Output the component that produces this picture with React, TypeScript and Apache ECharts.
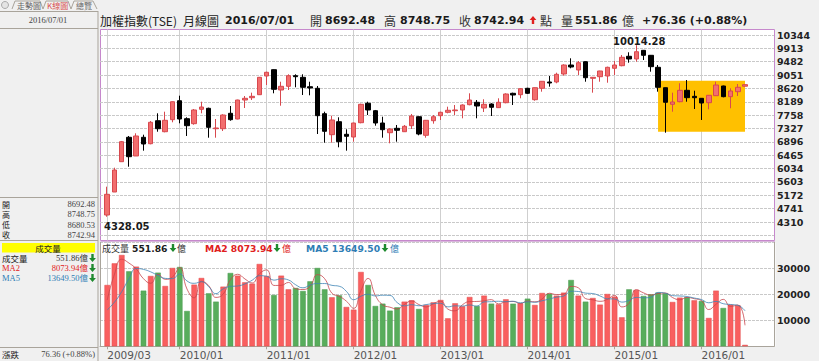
import React, { useEffect, useRef } from "react";
import * as echarts from "echarts";

// open, close, low, high for each month, 2009/03 to 2016/07
const ohlc: number[][] = [
  [4537,5205,4482,5450],[5279,5989,5279,6063],[6257,6902,6257,6925],[7044,6418,6095,7086],[6441,7086,6441,7173],
  [7044,6828,6612,7128],[6837,7528,6818,7570],[7579,7321,7224,7818],[7224,7592,7205,7870],[7612,8192,7528,8200],
  [8224,7634,7495,8386],[7644,7418,7086,7689],[7483,7925,7450,7957],[7947,8021,7818,8192],[7979,7366,7031,8000],
  [7321,7344,7031,7634],[7321,7763,7247,7786],[7818,7612,7579,8054],[7634,8247,7624,8257],[8247,8302,7989,8376],
  [8321,8366,8247,8483],[8418,8979,8408,8989],[9021,9141,8731,9160],[9225,8592,8463,9235],[8570,8689,8063,8837],
  [8689,9031,8570,9076],[9031,8999,8657,9076],[8979,8657,8408,9076],[8676,8634,8399,8837],[8625,7741,7150,8699],
  [7805,7237,6870,7870],[7128,7602,6870,7741],[7547,6902,6721,7689],[7141,7076,6612,7302],[7053,7505,6902,7515],
  [7515,8108,7495,8128],[8141,7925,7763,8192],[7902,7505,7418,7925],[7505,7289,7031,7708],[7192,7312,6850,7334],
  [7334,7270,6902,7441],[7224,7399,7215,7441],[7418,7731,7312,7796],[7708,7150,7108,7720],[7108,7592,7031,7602],
  [7579,7708,7483,7763],[7741,7850,7602,7870],[7850,7915,7818,8031],[7902,7925,7763,8086],[7925,8086,7657,8108],
  [8096,8247,8076,8463],[8173,8054,7657,8247],[7989,8108,7860,8270],[8118,8012,7731,8141],[8000,8173,7989,8302],
  [8160,8441,8141,8463],[8463,8408,8086,8483],[8418,8612,8302,8634],[8625,8463,8441,8640],[8257,8644,8224,8650],
  [8625,8850,8515,8860],[8828,8796,8676,9021],[8828,9076,8786,9128],[9086,9376,9031,9399],[9376,9312,9270,9592],
  [9215,9450,9054,9505],[9483,8966,8837,9495],[8947,8979,8483,8989],[8999,9183,8837,9190],[9021,9302,8805,9322],
  [9270,9376,9054,9505],[9354,9625,9334,9699],[9657,9570,9450,9786],[9570,9805,9483,10014],[9850,9689,9537,9860],
  [9689,9322,9160,9699],[9302,8657,8515,9376],[8644,8173,7192,8650],[8108,8183,7870,8483],[8192,8560,8173,8786],
  [8560,8322,8192,8892],[8366,8321,7957,8547],[8302,8150,7602,8310],[8160,8399,7947,8408],[8386,8731,8376,8837],
  [8699,8354,8334,8710],[8354,8538,7980,8625],[8515,8657,8376,8763],[8692,8743,8680,8749],
];

const volumes: number[] = [
  23590,31920,35130,28850,30640,21410,27050,28330,23200,30130,30510,13590,23720,26280,20380,17180,22950,28200,27180,24610,
  24100,31670,27050,19740,27180,21920,22440,21280,25000,30130,21920,18850,19610,15130,14100,28590,23590,15510,16410,13720,
  15000,17180,17690,14360,15900,16920,17820,10770,16540,15380,18970,15510,19490,16410,16150,18080,16410,16540,18330,15900,
  20510,20260,19490,20640,25510,19490,17180,18590,16030,20130,19100,11150,21920,21670,19360,20000,20640,20380,17050,18720,
  18850,17690,17440,10900,21410,14740,16030,15770,552,
];

// R = red bar, G = green bar
const volumeSides: string[] = (
  "RRRGRGRGRR" + "GGRRGGRGRR" + "RRRGRRGGGG" + "GRGRRRGGGG" + "GRRGRRRRRR" +
  "RGRGRRGRGR" + "RGRRGRGRRR" + "RRGRGGGGRR" + "GRGRRGRRR"
).split("");

const ma2: number[] = [
  17800,27750,33500,32000,29750,26000,24250,27700,25750,26650,30300,22050,18650,25000,23350,18800,20100,25600,27700,25900,
  24350,27900,29400,23400,23450,24550,22150,21850,23150,27550,26000,20400,19250,17350,14600,21350,26100,19550,15950,15050,
  14350,16100,17450,16050,15150,16400,17350,14300,13650,15950,17200,17250,17500,17950,16300,17150,17250,16450,17400,17100,
  18200,20400,19900,20050,23050,22500,18350,17900,17300,18050,19600,15150,16550,21800,20550,19700,20300,20500,18750,17900,
  18800,18300,17550,14150,16150,18050,15350,15900,8074,
];

const ma5: number[] = [
  14000,17000,21000,26000,29940,29580,28620,27260,26120,26020,27840,25140,24220,24840,22900,20240,22120,23020,23200,24000,
  25420,27160,26940,25440,25960,25520,23660,22500,23560,24140,24140,23440,23100,21120,17920,19260,20020,19380,19640,19560,
  16840,15560,16000,15600,16040,16420,16540,15160,15580,15480,15900,15440,17080,17160,17320,17140,17320,16720,17100,16940,
  17520,18200,18900,19360,21180,21080,20460,20280,19360,18280,18200,17000,17660,18800,18660,18840,20720,20420,19500,19360,
  19140,18560,17960,16740,17260,16380,16080,15760,13650,
];

const tickLabels = ["2009/03","2010/01","2011/01","2012/01","2013/01","2014/01","2015/01","2016/01"];
const highlightMonths = ["2015/07","2016/07"];
const highlightValues = [7224, 8870];

const months: string[] = [];
{
  let y = 2009, m = 2;
  for (let i = 0; i < 94; i++) {
    months.push(`${y}/${String(m).padStart(2, "0")}`);
    m++;
    if (m > 12) { m = 1; y++; }
  }
}
const tickSet = new Set(tickLabels);
const isTick = (_: number, v: string) => tickSet.has(v);

const PURPLE = "#C688CC";
const GREY = "#A9A49B";
const RED = "#E02020";
const BLUE = "#2E7DB5";
const GREEN = "#1E8A2E";
const CJK = '"Noto Sans CJK TC","Liberation Serif",serif';
const SERIF = '"Liberation Serif","Noto Sans CJK TC",serif';
const BOLD = '"DejaVu Sans",sans-serif';

const T = (x: number, y: number, text: string, o: any = {}) => ({
  type: "text", x, y, z: 20, silent: true,
  style: {
    text, fontFamily: o.font ?? SERIF, fontSize: o.size ?? 8.5, fontWeight: o.weight ?? "normal",
    fill: o.color ?? "#222", align: o.align ?? "left", verticalAlign: "middle",
  },
});
const B = (x: number, y: number, text: string, color = "#1a1a1a", size = 11) =>
  T(x, y, text, { font: BOLD, size, weight: "bold", color });
const C = (x: number, y: number, text: string, color = "#222", size = 12) =>
  T(x, y, text, { font: CJK, size, color });
const line = (x1: number, y1: number, x2: number, y2: number, stroke = GREY) => ({
  type: "line", z: 15, silent: true, shape: { x1, y1, x2, y2 }, style: { stroke, lineWidth: 1 },
});
const rect = (x: number, y: number, width: number, height: number, fill: string, stroke?: string, z = -1) => ({
  type: "rect", z, silent: true, shape: { x, y, width, height }, style: { fill, stroke: stroke ?? "none", lineWidth: 1 },
});
const arrow = (x: number, y: number, color: string, up = false) => {
  const s = up ? -1 : 1;
  return {
    type: "polygon", z: 20, silent: true,
    shape: { points: [[x - 1.2, y - 4 * s], [x + 1.2, y - 4 * s], [x + 1.2, y], [x + 3.4, y], [x, y + 4 * s], [x - 3.4, y], [x - 1.2, y]] },
    style: { fill: color },
  };
};

export default function App() {
  const ref = useRef<HTMLDivElement>(null);
  useEffect(() => {
    const chart = echarts.init(ref.current!, undefined, { renderer: "svg" });
    const xBase = (gridIndex: number) => ({ type: "category", gridIndex, data: months, boundaryGap: false });
    const graphicElements: any[] = [
      rect(100.5, 29.5, 674, 211, "#fff", PURPLE),
      rect(100.5, 242.5, 675, 104, "#fff"),
      line(100.5, 241.5, 775, 241.5, "#D9B6DC"),
      line(100.5, 242, 100.5, 347),
      // left panel
      line(98, 11, 98, 361), line(0, 11.5, 98, 11.5), line(0, 28.5, 98, 28.5),
      line(0, 197.5, 98, 197.5), line(0, 240.5, 98, 240.5), line(0, 347.5, 98, 347.5),
      rect(2, 243, 93, 9.5, "#FFFF00", undefined, 15),
      T(48, 20, "2016/07/01", { align: "center", color: "#444" }),
      T(2, 204, "開", { font: CJK, size: 8 }), T(2, 214.3, "高", { font: CJK, size: 8 }), T(2, 224.6, "低", { font: CJK, size: 8 }), T(2, 234.9, "收", { font: CJK, size: 8 }),
      T(95, 204, "8692.48", { align: "right", color: "#444" }), T(95, 214.3, "8748.75", { align: "right", color: "#444" }),
      T(95, 224.6, "8680.53", { align: "right", color: "#444" }), T(95, 234.9, "8742.94", { align: "right", color: "#444" }),
      T(48, 248, "成交量", { font: CJK, align: "center" }),
      T(2, 258, "成交量", { font: CJK }), T(88, 258, "551.86億", { font: SERIF, align: "right", color: "#333" }),
      T(2, 268, "MA2", { color: RED }), T(88, 268, "8073.94億", { align: "right", color: RED }),
      T(2, 278, "MA5", { color: BLUE }), T(88, 278, "13649.50億", { align: "right", color: BLUE }),
      arrow(92.5, 258, GREEN), arrow(92.5, 268, GREEN), arrow(92.5, 278, GREEN),
      T(2, 354, "漲跌", { font: CJK }), T(95, 354, "76.36 (+0.88%)", { align: "right", color: "#444" }),
      // tabs
      { type: "circle", z: 15, silent: true, shape: { cx: 5, cy: 5, r: 3.5 }, style: { fill: "#e4e4e4", stroke: "#aaa", lineWidth: 1 } },
      line(12, 9, 15, 1), line(15, 1, 40, 1), line(40, 1, 43, 9), line(43, 9, 46, 1), line(46, 1, 68, 1), line(68, 1, 71, 9), line(71, 9, 74, 1), line(74, 1, 93, 1), line(93, 1, 97, 9),
      T(17, 5, "走勢圖", { font: CJK, size: 8, color: "#666" }),
      T(47, 5, "K線圖", { font: CJK, size: 8, color: "#D85050" }),
      T(76, 5, "總覽", { font: CJK, size: 8, color: "#666" }),
      // title row
      C(100, 20, "加權指數(TSE)"), C(183, 20, "月線圖"), B(225, 20, "2016/07/01"),
      C(310, 20, "開", "#333"), B(325, 20, "8692.48"),
      C(384, 20, "高", "#333"), B(400, 20, "8748.75"),
      C(459, 20, "收", "#333"), B(474, 20, "8742.94"),
      arrow(533, 20, RED, true), C(540, 20, "點", "#333"),
      C(561, 20, "量", "#333"), B(575, 20, "551.86"), C(622, 20, "億", "#333"),
      B(642, 20, "+76.36 (+0.88%)"),
      // annotations
      B(613, 41, "10014.28", "#1a1a1a", 10), B(104, 226, "4328.05", "#1a1a1a", 10),
      // volume header
      C(102, 248, "成交量", "#333", 9), B(132, 248, "551.86", "#1a1a1a", 9.2), arrow(173, 248, GREEN), C(177, 248, "億", "#333", 9),
      B(205, 248, "MA2 8073.94", RED, 9.2), arrow(277, 248, GREEN), C(282, 248, "億", RED, 9),
      B(306, 248, "MA5 13649.50", BLUE, 9.2), arrow(385, 248, GREEN), C(390, 248, "億", BLUE, 9),
    ];
    chart.setOption({
      animation: false,
      backgroundColor: "#F0F0F0",
      grid: [
        { left: 100, right: 45, top: 35, height: 200.4, outerBoundsMode: "none" },
        { left: 100, right: 45, top: 242.3, height: 104, outerBoundsMode: "none" },
        { left: 100, right: 45, top: 29.5, height: 211, outerBoundsMode: "none" },
      ],
      xAxis: [
        { ...xBase(0), axisLine: { show: false }, axisTick: { show: false }, axisLabel: { show: false }, splitLine: { show: false } },
        {
          ...xBase(1),
          axisLine: { lineStyle: { color: GREY } },
          axisTick: { show: true, alignWithLabel: true, interval: isTick, length: 3, lineStyle: { color: GREY } },
          axisLabel: { show: true, interval: isTick, align: "left", margin: 3.5, fontSize: 10.5, color: "#555", fontFamily: '"DejaVu Sans",sans-serif' },
          splitLine: { show: true, interval: isTick, lineStyle: { color: "#CFCFCF" } },
        },
        {
          ...xBase(2),
          axisLine: { show: false }, axisTick: { show: false }, axisLabel: { show: false },
          splitLine: { show: true, interval: isTick, lineStyle: { color: "#CFCFCF" } },
        },
      ],
      yAxis: [
        {
          type: "value", gridIndex: 0, position: "right", min: 3879, max: 10344, interval: 431, scale: true,
          axisLine: { show: false }, axisTick: { show: false },
          axisLabel: { showMinLabel: false, margin: 3, fontSize: 9.5, fontWeight: "bold", color: "#222", fontFamily: BOLD, formatter: (v: number) => String(v) },
          splitLine: { show: true, lineStyle: { color: "#C9C9C9", type: [3, 1] } },
        },
        {
          type: "value", gridIndex: 1, position: "right", min: 0, max: 40000, interval: 10000,
          axisLine: { show: true, lineStyle: { color: GREY } }, axisTick: { show: false },
          axisLabel: { showMinLabel: false, showMaxLabel: false, margin: 3, fontSize: 9.5, fontWeight: "bold", color: "#222", fontFamily: BOLD, formatter: (v: number) => String(v) },
          splitLine: { show: true, lineStyle: { color: "#C9C9C9", type: [3, 1] } },
        },
        { type: "value", gridIndex: 2, min: 0, max: 1, axisLine: { show: false }, axisTick: { show: false }, axisLabel: { show: false }, splitLine: { show: false } },
      ],
      series: [
        {
          type: "candlestick", xAxisIndex: 0, yAxisIndex: 0, barWidth: 5,
          data: [["-", "-", "-", "-"], ...ohlc],
          itemStyle: { color: "#F26E6E", color0: "#000", borderColor: "#D8484E", borderColor0: "#000", borderWidth: 1 },
          markArea: {
            silent: true, z: 1,
            itemStyle: { color: "#FFC000", opacity: 1 },
            label: { show: false },
            data: [[{ xAxis: highlightMonths[0], yAxis: highlightValues[0] }, { xAxis: highlightMonths[1], yAxis: highlightValues[1] }]],
          },
        },
        {
          type: "bar", xAxisIndex: 1, yAxisIndex: 1, barWidth: 5.6,
          data: [null, ...volumes.map((v, i) => ({
            value: v,
            itemStyle: volumeSides[i] === "G"
              ? { color: "#58AD5C", borderColor: "#4C9A50", borderWidth: 0.5 }
              : { color: "#F95F5F", borderColor: "#E04E4E", borderWidth: 0.5 },
          }))],
        },
        { type: "line", xAxisIndex: 1, yAxisIndex: 1, data: [null, ...ma2], smooth: true, showSymbol: false, z: 4, lineStyle: { color: "#C8454B", width: 0.8 } },
        { type: "line", xAxisIndex: 1, yAxisIndex: 1, data: [null, ...ma5], smooth: true, showSymbol: false, z: 5, lineStyle: { color: "#3F85B5", width: 0.8 } },
      ],
      graphic: { elements: graphicElements },
    });
    return () => chart.dispose();
  }, []);
  return <div ref={ref} style={{ position: "fixed", left: 0, top: 0, width: 819, height: 361 }} />;
}
